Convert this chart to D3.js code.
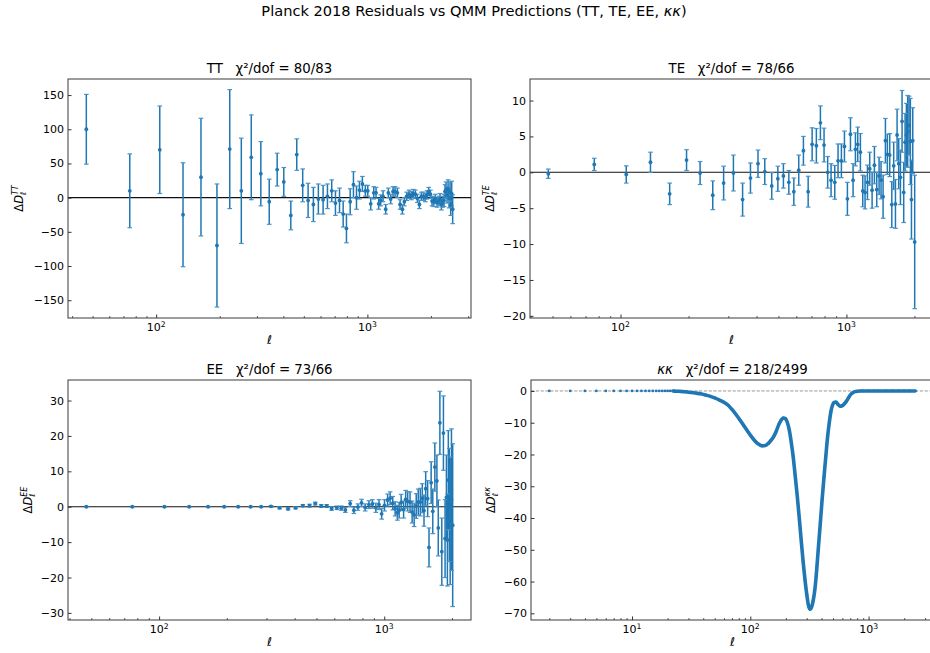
<!DOCTYPE html>
<html><head><meta charset="utf-8">
<script src="https://cdn.jsdelivr.net/npm/d3@7"></script>
<style>
html,body{margin:0;padding:0;background:#fff;}
svg{display:block;font-family:"DejaVu Sans",sans-serif;}
text{white-space:pre;}
</style></head>
<body><svg id="c" width="930" height="653"></svg>
<script>
// ---------------- DATA ----------------
const ttEll = [46.7, 75, 104, 134, 163, 194, 223, 253, 282, 313,
  343, 374, 402, 434, 463, 494, 524, 555, 586, 617,
  647, 678, 706, 738, 768, 796, 829, 859, 888, 917,
  947, 978, 1004, 1037, 1072, 1099, 1131, 1156, 1186, 1221,
  1257, 1289, 1323, 1352, 1387, 1428, 1464, 1496, 1535, 1575,
  1616, 1651, 1687, 1724, 1763, 1801, 1841, 1881, 1916, 1951,
  1987, 2023, 2060, 2098, 2137, 2176, 2207, 2240, 2272, 2306,
  2331, 2357, 2383, 2410, 2436, 2463, 2481, 2507, 2534];
const ttVal = [100, 10, 70, -25, 30, -70, 71, 10, 59, 35,
  -6, 41, 23, -26, 63, 18, -4, -10, -2, -3,
  2, 10, -8, -4, -24, -45, -6, 19, 0, 11,
  20, 10, 10, -9, 7, 7, -9, -4, 2, -17,
  7, -2, 9, 9, 7, -10, -17, -6, 2, 5,
  3, 6, 5, -1, -10, 2, 2, 0, 4, 9,
  5, -5, -6, -2, -7, -5, -2, -10, -6, -4,
  9, 11, 4, 13, -1, 9, -11, 6, -17];
const ttErr = [51, 54, 64, 76, 86, 90, 87, 77, 62, 47,
  33, 24, 21, 21, 23, 24, 25, 25, 22, 21,
  18, 16, 18, 18, 19, 21, 19, 19, 17, 13,
  11, 8, 8, 9, 9, 8, 8, 8, 8, 7,
  7, 7, 7, 7, 7, 7, 7, 6, 6, 6,
  6, 6, 6, 6, 6, 6, 6, 6, 6, 6,
  6, 7, 7, 7, 7, 7, 8, 8, 8, 9,
  10, 12, 12, 13, 14, 14, 15, 18, 21];

const teEll = [47.9, 76.5, 106, 135.7, 165, 196, 225, 256, 286, 316,
  347, 376, 406, 435, 467, 497, 526, 556, 585, 615,
  645, 677, 705, 736, 767, 796, 826, 855, 888, 918,
  950, 980, 1010, 1042, 1070, 1096, 1122, 1153, 1181, 1209,
  1239, 1268, 1299, 1330, 1362, 1395, 1423, 1453, 1488, 1518,
  1555, 1588, 1619, 1648, 1676, 1704, 1734, 1763, 1793, 1818,
  1843, 1867, 1893, 1919, 1940, 1966, 2005];
const teVal = [-0.2, 1.1, -0.3, 1.4, -3.0, 1.7, -0.1, -3.2, -1.5, -0.1,
  -3.8, -0.8, 1.2, 0.1, -1.9, -0.9, -0.5, -1.4, -2.7, 0.3,
  3.0, -2.7, 3.9, 3.7, 6.9, 3.8, 0.0, -1.1, -1.4, 1.6,
  1.6, 3.6, -3.7, 5.3, -1.1, 3.2, 3.9, 2.8, -2.6, -2.8,
  -1.4, 0.5, -2.5, 1.0, -2.4, -0.5, -1.1, -3.4, 4.4, 2.5,
  2.4, -4.5, 0.9, -4.4, 5.2, 1.2, -0.7, 7.1, -2.8, 4.2,
  5.2, 5.7, 6.5, 4.3, -3.8, 4.4, -9.7];
const teErr = [0.65, 0.85, 1.2, 1.4, 1.5, 1.45, 1.6, 2.0, 2.35, 2.5,
  2.3, 2.1, 1.9, 1.8, 1.85, 1.75, 1.7, 1.65, 1.9, 2.1,
  2.0, 2.15, 2.3, 2.4, 2.35, 2.35, 2.2, 2.3, 2.35, 2.35,
  2.35, 2.15, 2.3, 2.3, 2.3, 2.3, 2.4, 2.6, 2.2, 2.3,
  2.4, 2.3, 2.5, 2.6, 2.4, 2.6, 2.6, 3.0, 3.1, 2.8,
  3.0, 3.2, 3.3, 3.4, 3.6, 3.5, 3.8, 4.3, 4.2, 4.0,
  4.4, 5.0, 4.1, 6.0, 5.5, 4.6, 9.3];

const eeEll = [47.5, 76, 105.6, 136, 165, 194.6, 224.5, 255, 284, 314,
  343, 374, 404, 435, 466, 494, 525, 555, 584, 616,
  645, 672, 706, 733, 764, 793, 823, 855, 886, 918,
  948, 974, 1003, 1035, 1062, 1091, 1118, 1144, 1165, 1189,
  1219, 1245, 1271, 1302, 1330, 1358, 1387, 1416, 1446, 1476,
  1502, 1528, 1559, 1581, 1616, 1643, 1678, 1714, 1738, 1767,
  1802, 1832, 1863, 1889, 1908, 1926, 1945, 1963, 1989, 2014];
const eeVal = [0, 0, 0, 0, 0, 0, 0, 0, 0, 0.1,
  -0.3, -0.6, -0.3, 0.3, 0.3, 0.9, 0.2, 0.2, -0.5, -0.3,
  -0.4, -0.9, 0.9, -1.0, -0.1, 1.1, -0.2, 0.6, 0.8, -0.3,
  0.6, -2.0, 0.4, 1.9, 2.4, 1.0, -0.6, -1.7, -1.0, 1.2,
  -0.8, 2.1, 1.5, 1.3, -1.5, -2.3, 0.2, 1.3, 1.3, 2.4,
  -1.1, 5.1, 2.3, -11.5, 6.8, -1.3, 11.2, 7.3, -6.0, 23.7,
  -12.7, 20.8, -9.0, 2.6, -9.4, 7.5, 0.5, -4.0, 2.0, -5.2];
const eeErr = [0.1, 0.1, 0.1, 0.1, 0.1, 0.1, 0.1, 0.1, 0.1, 0.2,
  0.3, 0.3, 0.3, 0.3, 0.4, 0.4, 0.4, 0.4, 0.5, 0.5,
  0.6, 0.7, 0.8, 0.9, 0.9, 1.0, 1.0, 1.1, 1.2, 1.3,
  1.4, 1.5, 1.6, 1.7, 1.8, 1.9, 2.0, 2.1, 2.2, 2.3,
  2.4, 2.5, 2.7, 2.9, 3.1, 3.3, 3.5, 3.7, 3.9, 4.1,
  4.4, 4.8, 5.1, 5.5, 5.9, 6.3, 6.8, 7.3, 7.9, 8.9,
  9.5, 10.5, 11.0, 12.0, 13.0, 14.0, 16.0, 18.0, 20.0, 23.0];

const kkEll = [2, 3, 4, 5, 6, 7, 8, 9, 10, 11, 12, 13, 14, 15, 16, 17, 18, 19, 20,
  21, 22, 23, 24, 25, 26, 27, 28, 29, 30,
  32, 35, 38, 42, 46, 50, 55, 60, 65, 70, 76, 82, 88, 95, 102, 110, 118, 126, 134, 142,
  150, 158, 166, 174, 182, 190, 198, 206, 214, 222, 230, 240, 250, 260, 270, 280, 290,
  300, 310, 320, 330, 340, 350, 360, 375, 390, 405, 420, 435, 450, 465, 480, 495, 510,
  530, 550, 575, 600, 625, 650, 680, 710, 740, 770, 800, 850, 900, 1000, 1100, 1200,
  1400, 1600, 1800, 2000, 2200, 2500];
const kkVal = [0, 0, 0, 0, 0, 0, 0, 0, 0, 0, 0, 0, 0, 0, 0, 0, 0, 0, 0,
  0, 0, -0.05, -0.1, -0.1, -0.15, -0.2, -0.25, -0.3, -0.4,
  -0.5, -0.7, -0.9, -1.3, -1.7, -2.2, -2.9, -3.6, -4.5, -5.8, -7.5, -9.2, -10.9, -12.7, -14.3, -15.8, -16.8, -17.3, -17.2, -16.5,
  -15.5, -14.3, -12.6, -10.6, -9.2, -8.5, -8.7, -10.0, -12.5, -16.2, -20.5, -27, -33.5, -40.5, -47.5, -54, -59.5,
  -64, -67.5, -68.7, -68, -66, -63, -58.5, -50, -42, -34, -27, -20.5, -14.5, -10, -6.5, -4.5, -3.6,
  -3.5, -4.2, -4.8, -4.6, -4.0, -3.2, -2.0, -1.0, -0.5, -0.2, -0.1, 0, 0, 0, 0, 0,
  0, 0, 0, 0, 0, 0];

const ttYTicks = [-150, -100, -50, 0, 50, 100, 150];
const teYTicks = [-20, -15, -10, -5, 0, 5, 10];
const eeYTicks = [-30, -20, -10, 0, 10, 20, 30];
const kkYTicks = [-70, -60, -50, -40, -30, -20, -10, 0];
const titles = ["TT", "TE", "EE", "κκ"];
const chi2 = ["80/83", "78/66", "73/66", "218/2499"];
const suptitle = "Planck 2018 Residuals vs QMM Predictions (TT, TE, EE, ";

// ---------------- DRAW ----------------
const svg = d3.select("#c");
const BLUE = "#1f77b4";
const minus = s => String(s).replace("-", "\u2212");

// suptitle
const st = svg.append("text").attr("x", 474).attr("y", 16).attr("text-anchor", "middle")
  .attr("font-size", 14.6).attr("fill", "#000");
st.append("tspan").text(suptitle);
st.append("tspan").attr("font-style", "italic").text("κκ");
st.append("tspan").text(")");

const panels = [
  {name: titles[0], chi: chi2[0], x: 68, y: 79, w: 403, h: 239, ell: ttEll, val: ttVal, err: ttErr,
   yDom: [-176, 173.5], yTicks: ttYTicks, sup: "TT", ylabOff: 45, zeroStyle: "solid"},
  {name: titles[1], chi: chi2[1], x: 530, y: 79, w: 403, h: 239, ell: teEll, val: teVal, err: teErr,
   yDom: [-20.3, 13.0], yTicks: teYTicks, sup: "TE", ylabOff: 36, zeroStyle: "solid"},
  {name: titles[2], chi: chi2[2], x: 68, y: 380, w: 403, h: 240, ell: eeEll, val: eeVal, err: eeErr,
   yDom: [-32.0, 35.8], yTicks: eeYTicks, sup: "EE", ylabOff: 36, zeroStyle: "solid"},
  {name: titles[3], chi: chi2[3], x: 531, y: 380, w: 403, h: 240, ell: kkEll, val: kkVal, err: null,
   yDom: [-72.1, 3.45], yTicks: kkYTicks, sup: "κκ", ylabOff: 36, zeroStyle: "dashed", italicTitle: true}
];

panels.forEach((p, i) => {
  const lo = Math.log10(d3.min(p.ell)), hi = Math.log10(d3.max(p.ell));
  const m = (hi - lo) * 0.05;
  const x = d3.scaleLog().domain([Math.pow(10, lo - m), Math.pow(10, hi + m)]).range([0, p.w]);
  const y = d3.scaleLinear().domain(p.yDom).range([p.h, 0]);
  const g = svg.append("g").attr("transform", `translate(${p.x},${p.y})`);
  const clipId = "clip" + i;
  g.append("clipPath").attr("id", clipId).append("rect").attr("width", p.w).attr("height", p.h);
  const plot = g.append("g").attr("clip-path", `url(#${clipId})`);

  // zero line
  const zl = plot.append("line").attr("x1", 0).attr("x2", p.w).attr("y1", y(0)).attr("y2", y(0));
  if (p.zeroStyle === "solid") zl.attr("stroke", "#111").attr("stroke-width", 1.1);
  else zl.attr("stroke", "#8c8c8c").attr("stroke-width", 0.9).attr("stroke-dasharray", "3.2,1.6");

  const pts = p.ell.map((l, k) => ({l, v: p.val[k], e: p.err ? p.err[k] : 0}));

  if (p.err) {
    const eb = plot.append("g");
    eb.selectAll("line.bar").data(pts).join("line").attr("class", "bar")
      .attr("x1", d => x(d.l)).attr("x2", d => x(d.l))
      .attr("y1", d => y(d.v - d.e)).attr("y2", d => y(d.v + d.e))
      .attr("stroke", BLUE).attr("stroke-width", 1.5);
    ["+", "-"].forEach(sg => {
      eb.selectAll("line.cap" + (sg === "+" ? "t" : "b")).data(pts).join("line")
        .attr("class", "cap" + (sg === "+" ? "t" : "b"))
        .attr("x1", d => x(d.l) - 2.3).attr("x2", d => x(d.l) + 2.3)
        .attr("y1", d => y(sg === "+" ? d.v + d.e : d.v - d.e))
        .attr("y2", d => y(sg === "+" ? d.v + d.e : d.v - d.e))
        .attr("stroke", "#4a93c8").attr("stroke-width", 1.2);
    });
    eb.selectAll("circle").data(pts).join("circle")
      .attr("cx", d => x(d.l)).attr("cy", d => y(d.v)).attr("r", 1.9).attr("fill", BLUE);
  } else {
    const line = d3.line().x(d => x(d.l)).y(d => y(d.v)).curve(d3.curveMonotoneX);
    plot.append("path").datum(pts.filter(d => d.l >= 22)).attr("d", line)
      .attr("fill", "none").attr("stroke", BLUE).attr("stroke-width", 3.6)
      .attr("stroke-linejoin", "round");
    plot.selectAll("circle").data(pts).join("circle")
      .attr("cx", d => x(d.l)).attr("cy", d => y(d.v)).attr("r", 1.4).attr("fill", BLUE);
  }

  // frame
  g.append("rect").attr("width", p.w).attr("height", p.h).attr("fill", "none")
    .attr("stroke", "#3a3a3a").attr("stroke-width", 1);

  // x ticks
  const d0 = x.domain();
  const majors = [], minors = [];
  for (let e = -1; e <= 4; e++) {
    for (let k = 1; k <= 9; k++) {
      const v = k * Math.pow(10, e);
      if (v < d0[0] || v > d0[1]) continue;
      (k === 1 ? majors : minors).push(v);
    }
  }
  const xa = g.append("g").attr("transform", `translate(0,${p.h})`)
    .call(d3.axisBottom(x).tickValues(majors).tickSize(-3.5).tickFormat(() => ""));
  xa.select(".domain").remove();
  xa.selectAll(".tick line").attr("stroke", "#333").attr("stroke-width", 1);
  const xm = g.append("g").attr("transform", `translate(0,${p.h})`)
    .call(d3.axisBottom(x).tickValues(minors).tickSize(-2).tickFormat(() => ""));
  xm.select(".domain").remove();
  xm.selectAll(".tick line").attr("stroke", "#333").attr("stroke-width", 0.8);
  majors.forEach(v => {
    const t = g.append("text").attr("x", x(v)).attr("y", p.h + 13).attr("text-anchor", "middle")
      .attr("font-size", 11).attr("fill", "#000");
    t.append("tspan").text("10");
    t.append("tspan").attr("font-size", 7.7).attr("dy", -4.5).text(String(Math.round(Math.log10(v))));
  });

  // y ticks
  const ya = g.append("g").call(d3.axisLeft(y).tickValues(p.yTicks).tickSize(-3.5)
    .tickPadding(4).tickFormat(d => minus(d)));
  ya.select(".domain").remove();
  ya.selectAll(".tick line").attr("stroke", "#333").attr("stroke-width", 1);
  ya.selectAll(".tick text").attr("font-size", 11).attr("fill", "#000")
    .attr("font-family", "DejaVu Sans").attr("x", -4);

  // title
  const tt = g.append("text").attr("x", p.w / 2).attr("y", -6).attr("text-anchor", "middle")
    .attr("font-size", 13.3).attr("fill", "#000");
  tt.append("tspan").attr("font-style", p.italicTitle ? "italic" : "normal").text(p.name);
  tt.append("tspan").text("   χ²/dof = " + p.chi);

  // x label
  g.append("text").attr("x", p.w / 2).attr("y", p.h + 26).attr("text-anchor", "middle")
    .attr("font-size", 12).attr("font-style", "italic").attr("fill", "#000").text("ℓ");

  // y label
  const yl = g.append("text").attr("transform", `translate(${-p.ylabOff},${p.h / 2}) rotate(-90)`)
    .attr("text-anchor", "middle").attr("font-size", 11.5).attr("fill", "#000");
  yl.append("tspan").text("Δ");
  yl.append("tspan").attr("font-style", "italic").text("D");
  yl.append("tspan").attr("font-style", "italic").attr("font-size", 8).attr("dy", 2.5).text("ℓ");
  yl.append("tspan").attr("font-style", "italic").attr("font-size", 8).attr("dx", -3.4).attr("dy", -7.5).text(p.sup);
});
</script>
</body></html>
